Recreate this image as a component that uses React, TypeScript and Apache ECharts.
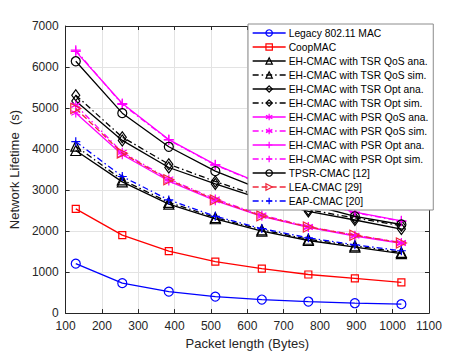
import React, { useEffect, useRef } from "react";
import * as echarts from "echarts";

const packetLengths = [128, 256, 384, 512, 640, 768, 896, 1024];
const xTicks = [100, 1100, 100];
const yTicks = [0, 7000, 1000];

const legacy = [1205, 730, 523, 403, 330, 282, 241, 217];
const coopMac = [2540, 1900, 1513, 1255, 1086, 941, 845, 748];
const tsrQosAna = [3965, 3200, 2655, 2300, 2000, 1770, 1610, 1450];
const tsrQosSim = [4070, 3250, 2700, 2330, 2030, 1800, 1640, 1480];
const tsrOptAna = [5170, 4210, 3550, 3150, 2780, 2480, 2270, 2050];
const tsrOptSim = [5310, 4290, 3630, 3210, 2830, 2520, 2320, 2130];
const psrQosAna = [4880, 3860, 3220, 2740, 2360, 2090, 1880, 1700];
const psrQosSim = [5070, 3920, 3270, 2780, 2390, 2110, 1900, 1720];
const psrOptAna = [6380, 5110, 4230, 3620, 3150, 2780, 2460, 2250];
const psrOptSim = [6410, 5090, 4220, 3610, 3140, 2770, 2450, 2240];
const tpsr = [6140, 4875, 4055, 3460, 3010, 2660, 2360, 2160];
const leaCmac = [4990, 3900, 3250, 2760, 2370, 2100, 1900, 1710];
const eapCmac = [4180, 3330, 2760, 2360, 2060, 1835, 1665, 1520];

const names = [
  "Legacy 802.11 MAC",
  "CoopMAC",
  "EH-CMAC with TSR QoS ana.",
  "EH-CMAC with TSR QoS sim.",
  "EH-CMAC with TSR Opt ana.",
  "EH-CMAC with TSR Opt sim.",
  "EH-CMAC with PSR QoS ana.",
  "EH-CMAC with PSR QoS sim.",
  "EH-CMAC with PSR Opt ana.",
  "EH-CMAC with PSR Opt sim.",
  "TPSR-CMAC [12]",
  "LEA-CMAC [29]",
  "EAP-CMAC [20]",
];

const FONT = "'Liberation Sans', Arial, Helvetica, sans-serif";
const PLUS = "path://M0,-10L0,10M-10,0L10,0";
const STAR = "path://M0,-10L0,10M-8.66,-5L8.66,5M-8.66,5L8.66,-5";
const DASHDOT = [6, 3, 1.5, 3];
const DASH = [6, 3];

type Sty = { color: string; dash: any; symbol: string; size: any; rotate?: number };

const styles: Sty[] = [
  { color: "#0000ff", dash: "solid", symbol: "circle", size: 9 },
  { color: "#ff0000", dash: "solid", symbol: "rect", size: 7 },
  { color: "#000000", dash: "solid", symbol: "triangle", size: 10 },
  { color: "#000000", dash: DASHDOT, symbol: "triangle", size: 10 },
  { color: "#000000", dash: "solid", symbol: "diamond", size: [8, 11] },
  { color: "#000000", dash: DASHDOT, symbol: "diamond", size: [8, 11] },
  { color: "#ff00ff", dash: "solid", symbol: STAR, size: 9 },
  { color: "#ff00ff", dash: DASHDOT, symbol: STAR, size: 9 },
  { color: "#ff00ff", dash: "solid", symbol: PLUS, size: 10 },
  { color: "#ff00ff", dash: DASHDOT, symbol: PLUS, size: 10 },
  { color: "#000000", dash: "solid", symbol: "circle", size: 9 },
  { color: "#f0283c", dash: DASH, symbol: "triangle", size: 10, rotate: -90 },
  { color: "#0000ff", dash: DASHDOT, symbol: PLUS, size: 9 },
];

const dataSets = [
  legacy, coopMac, tsrQosAna, tsrQosSim, tsrOptAna, tsrOptSim,
  psrQosAna, psrQosSim, psrOptAna, psrOptSim, tpsr, leaCmac, eapCmac,
];

export default function App() {
  const ref = useRef<HTMLDivElement>(null);
  useEffect(() => {
    if (!ref.current) return;
    const chart = echarts.init(ref.current, undefined, { renderer: "svg" });
    const axisColor = "#262626";
    const gridColor = "#e3e3e3";
    const series = names.map((name, i) => {
      const s = styles[i];
      return {
        name,
        type: "line",
        xAxisIndex: 0,
        yAxisIndex: 0,
        data: packetLengths.map((x, j) => [x, dataSets[i][j]]),
        symbol: s.symbol,
        symbolSize: s.size,
        symbolRotate: s.rotate ?? 0,
        showAllSymbol: true,
        lineStyle: { color: s.color, width: 1.3, type: s.dash },
        itemStyle: { color: "none", borderColor: s.color, borderWidth: 1.2 },
        emphasis: { disabled: true },
        z: 2 + i,
      };
    });
    const fmt = (v: number) => String(v);
    chart.setOption({
      animation: false,
      backgroundColor: "#ffffff",
      textStyle: { fontFamily: FONT },
      grid: { left: 62, right: 45, top: 26, bottom: 39, containLabel: false },
      legend: {
        orient: "vertical",
        left: 248,
        top: 24,
        data: names,
        itemWidth: 33,
        itemHeight: 8,
        itemGap: 0,
        padding: [2, 5, 2, 4],
        backgroundColor: "#ffffff",
        borderColor: "#8c8c8c",
        borderWidth: 1,
        itemStyle: { borderWidth: 1.2 },
        lineStyle: { width: 1.3 },
        textStyle: { fontSize: 10.3, color: "#000", fontFamily: FONT, lineHeight: 14, padding: [0, 0, 0, -2] },
        selectedMode: false,
        z: 20,
      },
      xAxis: [
        {
          type: "value",
          min: xTicks[0],
          max: xTicks[1],
          interval: xTicks[2],
          name: "Packet length (Bytes)",
          nameLocation: "middle",
          nameGap: 20,
          nameTextStyle: { fontSize: 13, color: axisColor, fontFamily: FONT },
          axisLine: { show: true, onZero: false, lineStyle: { color: axisColor, width: 1 } },
          axisTick: { show: true, inside: true, length: 4, lineStyle: { color: axisColor } },
          axisLabel: { fontSize: 12, color: axisColor, margin: 7, fontFamily: FONT, formatter: fmt },
          splitLine: { show: true, lineStyle: { color: gridColor, width: 1 } },
        },
        {
          type: "value",
          position: "top",
          min: xTicks[0],
          max: xTicks[1],
          interval: xTicks[2],
          axisLine: { show: true, onZero: false, lineStyle: { color: axisColor, width: 1 } },
          axisTick: { show: true, inside: true, length: 4, lineStyle: { color: axisColor } },
          axisLabel: { show: false },
          splitLine: { show: false },
        },
      ],
      yAxis: [
        {
          type: "value",
          min: yTicks[0],
          max: yTicks[1],
          interval: yTicks[2],
          name: "Network Lifetime  (s)",
          nameLocation: "middle",
          nameGap: 28,
          nameTextStyle: { fontSize: 13, color: axisColor, fontFamily: FONT },
          axisLine: { show: true, onZero: false, lineStyle: { color: axisColor, width: 1 } },
          axisTick: { show: true, inside: true, length: 4, lineStyle: { color: axisColor } },
          axisLabel: { fontSize: 12, color: axisColor, margin: 7, fontFamily: FONT, formatter: fmt },
          splitLine: { show: true, lineStyle: { color: gridColor, width: 1 } },
        },
        {
          type: "value",
          position: "right",
          min: yTicks[0],
          max: yTicks[1],
          interval: yTicks[2],
          axisLine: { show: true, onZero: false, lineStyle: { color: axisColor, width: 1 } },
          axisTick: { show: true, inside: true, length: 4, lineStyle: { color: axisColor } },
          axisLabel: { show: false },
          splitLine: { show: false },
        },
      ],
      series,
    });
    return () => chart.dispose();
  }, []);
  return (
    <div
      ref={ref}
      style={{ position: "fixed", left: 0, top: 0, width: 474, height: 355, background: "#fff" }}
    />
  );
}
